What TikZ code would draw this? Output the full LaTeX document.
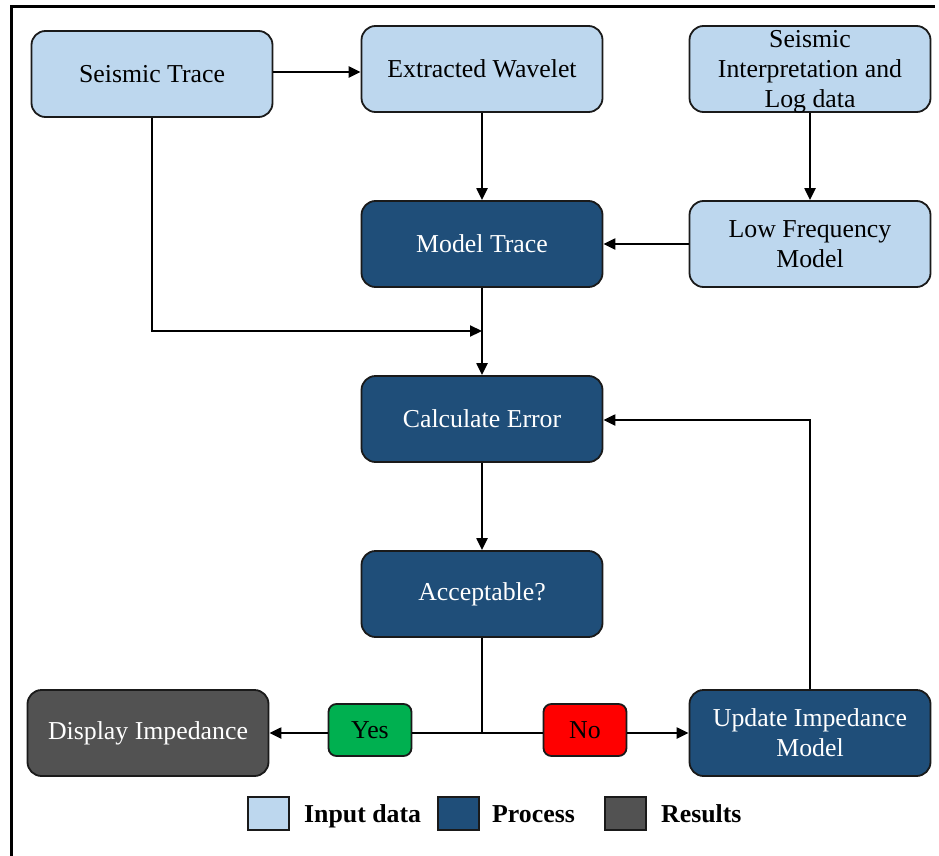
\documentclass[tikz,border=0pt]{standalone}
\usepackage{fontspec}
\setmainfont{Liberation Serif}
\usetikzlibrary{arrows.meta}
\definecolor{inblue}{HTML}{BDD7EE}
\definecolor{procblue}{HTML}{1F4E79}
\definecolor{resgray}{HTML}{525252}
\definecolor{yesgreen}{HTML}{00B050}
\definecolor{nored}{HTML}{FF0000}
\definecolor{edge}{HTML}{1A1A1A}
\begin{document}
\begin{tikzpicture}[x=1pt,y=-1pt,
  box/.style={draw=edge, line width=1.8pt, rounded corners=14pt, minimum width=241pt, minimum height=86pt, align=center, font=\fontsize{25.8}{30}\selectfont, inner sep=2pt},
  inbox/.style={box, fill=inblue, text=black},
  procbox/.style={box, fill=procblue, text=white},
  resbox/.style={box, fill=resgray, text=white},
  tagbox/.style={draw=edge, line width=1.8pt, rounded corners=8pt, minimum width=83pt, minimum height=52pt, font=\fontsize{25.8}{30}\selectfont, inner sep=1pt},
  legbox/.style={draw=edge, line width=1.8pt, minimum width=41pt, minimum height=33pt, inner sep=0pt},
  legtext/.style={anchor=base west, font=\fontsize{25.8}{30}\selectfont\bfseries, inner sep=0pt},
  ln/.style={line width=2.2pt, draw=black},
  arr/.style={ln, -{Triangle[length=12pt,width=11pt]}}
]
\useasboundingbox (0,0) rectangle (939,856);
\fill[white] (0,0) rectangle (939,856);
\draw[line width=3pt, line cap=rect] (933,6.5) -- (11,6.5) -- (11,860);

\node[inbox] (st) at (152,74) {Seismic Trace};
\node[inbox] (ew) at (482,69) {Extracted Wavelet};
\node[inbox, inner ysep=0pt] (si) at (810,69) {Seismic\\Interpretation and\\\raisebox{0pt}[\height][0pt]{Log data}};
\node[procbox] (mt) at (482,244) {Model Trace};
\node[inbox] (lf) at (810,244) {Low Frequency\\Model};
\node[procbox] (ce) at (482,419) {Calculate Error};
\node[procbox] (ac) at (482,594) {Acceptable?};
\node[resbox] (di) at (148,733) {Display Impedance};
\node[procbox] (ui) at (810,733) {Update Impedance\\Model};
\node[tagbox, fill=yesgreen] (yes) at (370,730) {Yes};
\node[tagbox, fill=nored] (no) at (585,730) {No};

\coordinate (m) at (482,331);
\coordinate (j) at (482,733);

\draw[arr] (st.east |- 0,72) -- (ew.west |- 0,72);
\draw[arr] (ew.south) -- (mt.north);
\draw[arr] (si.south) -- (lf.north);
\draw[arr] (lf.west) -- (mt.east);
\draw[arr] (st.south) |- (m);
\draw[arr] (mt.south) -- (ce.north);
\draw[arr] (ce.south) -- (ac.north);
\draw[ln] (ac.south) -- (j);
\draw[ln] (j) -- (yes.east |- j);
\draw[arr] (yes.west |- j) -- (di.east);
\draw[ln] (j) -- (no.west |- j);
\draw[arr] (no.east |- j) -- (ui.west);
\draw[arr] (ui.north) |- (ce.east |- 0,420);

\node[legbox, fill=inblue] (l1) at (268.5,813.5) {};
\node[legtext] (t1) at (304,822) {Input data};
\node[legbox, fill=procblue] (l2) at (458.5,813.5) {};
\node[legtext] (t2) at (492,822) {Process};
\node[legbox, fill=resgray] (l3) at (625.5,813.5) {};
\node[legtext] (t3) at (661,822) {Results};
\end{tikzpicture}
\end{document}
